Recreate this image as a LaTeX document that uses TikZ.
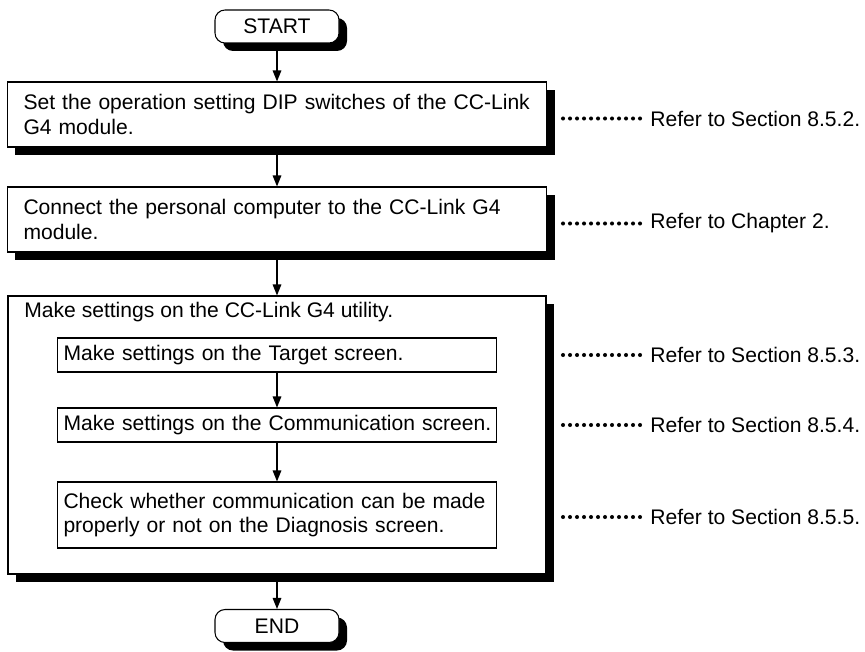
\documentclass[tikz,border=0pt]{standalone}
\usepackage{fontspec}
\setmainfont{Liberation Sans}
\usetikzlibrary{arrows.meta,positioning,shadows}

\begin{document}
\begin{tikzpicture}[
  font=\fontsize{12}{14}\selectfont,
  term/.style={rectangle, rounded corners=0.2cm, draw=black, line width=0.6pt, fill=white,
    minimum width=2.48cm, minimum height=0.66cm, inner sep=0pt,
    drop shadow={shadow xshift=0.16cm, shadow yshift=-0.16cm, fill=black, opacity=1}},
  proc/.style={rectangle, draw=black, line width=0.6pt, fill=white, minimum height=1.3cm,
    inner xsep=0.32cm, text width=10.14cm, align=left,
    drop shadow={shadow xshift=0.16cm, shadow yshift=-0.16cm, fill=black, opacity=1}},
  outer/.style={rectangle, draw=black, line width=0.6pt, fill=white,
    minimum width=10.76cm, minimum height=5.56cm,
    drop shadow={shadow xshift=0.16cm, shadow yshift=-0.16cm, fill=black, opacity=1}},
  sub/.style={rectangle, draw=black, line width=0.6pt, fill=white,
    inner xsep=0.12cm, text width=8.54cm, align=left},
  ref/.style={anchor=west, inner sep=0pt},
  flow/.style={-{Triangle[length=0.22cm,width=0.17cm]}, line width=0.85pt},
  lead/.style={line width=2.3pt, line cap=round, dash pattern=on 0pt off 0.14cm}
]
  \useasboundingbox (0,0) rectangle (17.3,-13.02);

  % Main steps
  \node[term] (start) at (5.54,-0.53) {START};
  \node[proc] (dip)   at (5.54,-2.29) {Set the operation setting DIP switches of the CC-Link\\G4 module.};
  \node[proc] (pc)    at (5.54,-4.39) {Connect the personal computer to the CC-Link G4\\module.};
  \node[outer] (util) at (5.54,-8.70) {};
  \node[ref] (utitle) at (0.48,-6.24) {Make settings on the CC-Link G4 utility.};
  \node[term] (end)   at (5.54,-12.52) {END};

  % Utility screens
  \node[sub, minimum height=0.68cm] (target) at (5.54,-7.10) {Make settings on the Target screen.};
  \node[sub, minimum height=0.68cm] (comm)   at (5.54,-8.50) {\mbox{Make settings on the Communication screen.}};
  \node[sub, minimum height=1.32cm] (diag)   at (5.54,-10.30) {Check whether communication can be made\\properly or not on the Diagnosis screen.};

  % Flow
  \draw[flow] (start) -- (dip);
  \draw[flow] (dip) -- (pc);
  \draw[flow] (pc) -- (util);
  \draw[flow] (target) -- (comm);
  \draw[flow] (comm) -- (diag);
  \draw[flow] (util) -- (end);

  % References
  \node[ref] (r1) at (13.0,-2.37)  {Refer to Section 8.5.2.};
  \node[ref] (r2) at (13.0,-4.47)  {Refer to Chapter 2.};
  \node[ref] (r3) at (13.0,-7.10)  {Refer to Section 8.5.3.};
  \node[ref] (r4) at (13.0,-8.50)  {Refer to Section 8.5.4.};
  \node[ref] (r5) at (13.0,-10.34) {Refer to Section 8.5.5.};
  \draw[lead] ([xshift=-1.74cm]r1.west) -- ([xshift=-0.2cm]r1.west);
  \draw[lead] ([xshift=-1.74cm]r2.west) -- ([xshift=-0.2cm]r2.west);
  \draw[lead] ([xshift=-1.74cm]r3.west) -- ([xshift=-0.2cm]r3.west);
  \draw[lead] ([xshift=-1.74cm]r4.west) -- ([xshift=-0.2cm]r4.west);
  \draw[lead] ([xshift=-1.74cm]r5.west) -- ([xshift=-0.2cm]r5.west);
\end{tikzpicture}
\end{document}
